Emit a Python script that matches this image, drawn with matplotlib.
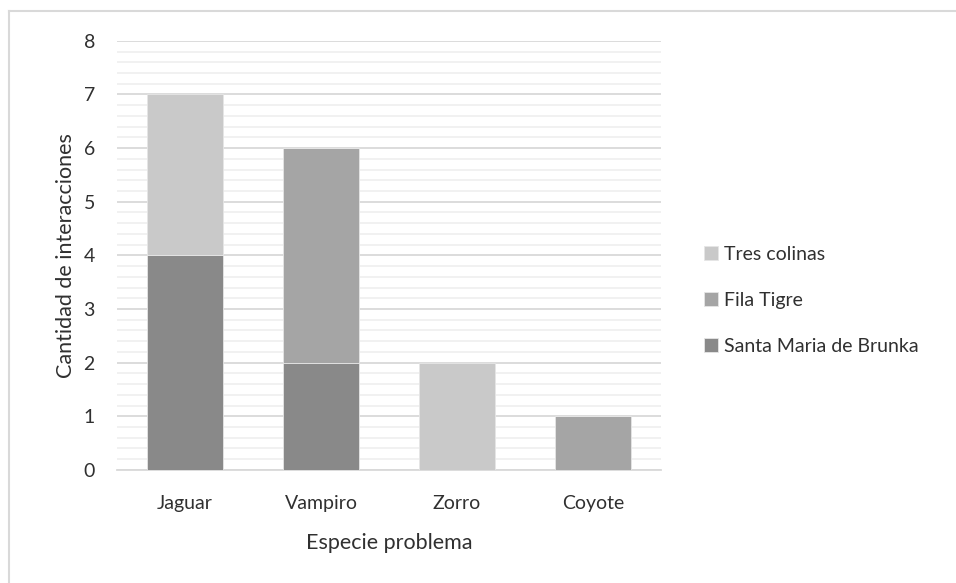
import numpy as np
import matplotlib.pyplot as plt
from matplotlib.lines import Line2D
from matplotlib.ticker import MultipleLocator

# data
especies = ["Jaguar", "Vampiro", "Zorro", "Coyote"]
santa_maria = [4, 2, 0, 0]
fila_tigre = [0, 4, 0, 1]
tres_colinas = [3, 0, 2, 0]

series_names = ["Santa Maria de Brunka", "Fila Tigre", "Tres colinas"]
series_colors = ["#898989", "#a5a5a5", "#c9c9c9"]

plt.rcParams["font.family"] = ["Lato", "DejaVu Sans"]
text_color = "#303030"

fig = plt.figure(figsize=(9.56, 5.83), dpi=100)
ax = fig.add_axes([0.1225, 0.194, 0.569, 0.736])

x = np.arange(len(especies))
bottom = np.zeros(len(especies))
for name, vals, col in zip(series_names, [santa_maria, fila_tigre, tres_colinas], series_colors):
    vals = np.array(vals, dtype=float)
    ax.bar(x, vals, width=0.56, bottom=bottom, color=col, edgecolor="#e6e6e6",
           linewidth=0.6, zorder=3, label=name)
    bottom += vals

ax.set_xlim(-0.5, 3.5)
ax.set_ylim(0, 8)
ax.yaxis.set_major_locator(MultipleLocator(1))
ax.yaxis.set_minor_locator(MultipleLocator(0.2))
ax.grid(which="major", axis="y", color="#d9d9d9", linewidth=1.3, zorder=0)
ax.grid(which="minor", axis="y", color="#f0f0f0", linewidth=1.3, zorder=0)
for s in ["top", "right", "left"]:
    ax.spines[s].set_visible(False)
ax.spines["bottom"].set_color("#d9d9d9")
ax.spines["bottom"].set_linewidth(1.3)
ax.tick_params(which="both", length=0)
ax.tick_params(axis="y", pad=16, labelsize=14, labelcolor=text_color)
ax.tick_params(axis="x", pad=18, labelsize=14, labelcolor=text_color)
ax.set_xticks(x)
ax.set_xticklabels(especies)

ax.set_xlabel("Especie problema", fontsize=15.5, color=text_color, labelpad=15.5)
ax.set_ylabel("Cantidad de interacciones", fontsize=15.5, color=text_color, labelpad=5.5)

h, l = ax.get_legend_handles_labels()
fig.legend(h[::-1], l[::-1], loc="center left", bbox_to_anchor=(0.718, 0.485),
           frameon=False, fontsize=14, handlelength=0.7, handleheight=0.7,
           handletextpad=0.35, labelspacing=1.5, labelcolor=text_color)

# chart border (only top and left visible)
fig.add_artist(Line2D([0.0095, 0.0095], [0, 0.981], transform=fig.transFigure,
                      color="#d9d9d9", linewidth=1.5))
fig.add_artist(Line2D([0.0095, 1.0], [0.981, 0.981], transform=fig.transFigure,
                      color="#d9d9d9", linewidth=1.5))

fig.savefig("out.png", dpi=100)
